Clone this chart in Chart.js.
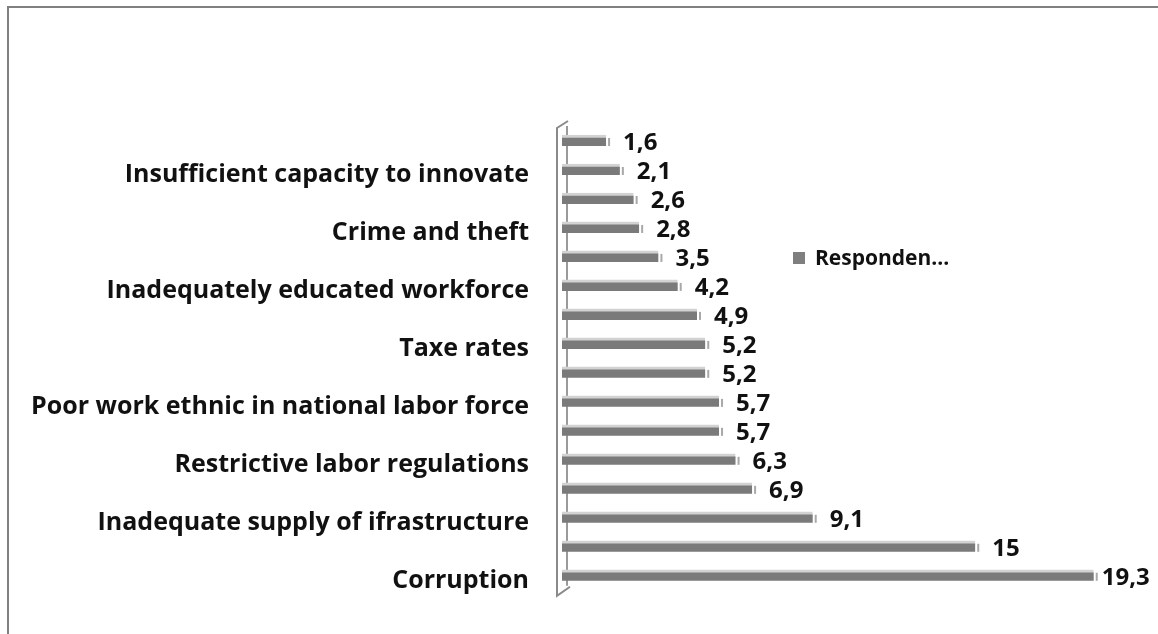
<!DOCTYPE html>
<html>
<head>
<meta charset="utf-8">
<script src="https://cdn.jsdelivr.net/npm/chart.js@4.4.0/dist/chart.umd.min.js"></script>
<style>
  html, body { margin: 0; padding: 0; background: #fff; overflow: hidden; }
  #wrap { position: relative; width: 1158px; height: 634px; }
  #frame { position: absolute; left: 7px; top: 6px; width: 1300px; height: 800px;
           border-top: 2px solid #808080; border-left: 2px solid #808080; box-sizing: border-box; }
  canvas { position: absolute; left: 0; top: 0; }
</style>
</head>
<body>
<div id="wrap">
  <div id="frame"></div>
  <canvas id="c" width="1158" height="634"></canvas>
</div>
<script>
const categories = [
  "", "Insufficient capacity to innovate",
  "", "Crime and theft",
  "", "Inadequately educated workforce",
  "", "Taxe rates",
  "", "Poor work ethnic in national labor force",
  "", "Restrictive labor regulations",
  "", "Inadequate supply of ifrastructure",
  "", "Corruption"
];
const values = [1.6, 2.1, 2.6, 2.8, 3.5, 4.2, 4.9, 5.2, 5.2, 5.7, 5.7, 6.3, 6.9, 9.1, 15, 19.3];
const valueLabels = ["1,6","2,1","2,6","2,8","3,5","4,2","4,9","5,2","5,2","5,7","5,7","6,3","6,9","9,1","15","19,3"];
const seriesName = "Responden...";

const FONT = '"Open Sans", "Liberation Sans", sans-serif';

const wallPlugin = {
  id: 'wall',
  beforeDatasetsDraw(chart) {
    const { ctx, chartArea: a } = chart;
    ctx.save();
    ctx.strokeStyle = '#9a9a9a';
    ctx.lineWidth = 2;
    ctx.beginPath();
    ctx.moveTo(a.left + 5, a.top);
    ctx.lineTo(a.left + 5, a.bottom - 4);
    ctx.stroke();
    ctx.strokeStyle = '#8a8a8a';
    ctx.lineWidth = 2;
    ctx.beginPath();
    ctx.moveTo(a.left + 6, a.top - 5);
    ctx.lineTo(a.left - 5, a.top + 2);
    ctx.lineTo(a.left - 5, a.bottom + 6);
    ctx.lineTo(a.left + 8, a.bottom - 3);
    ctx.stroke();
    ctx.restore();
  },
  afterDatasetsDraw(chart) {
    const { ctx } = chart;
    const meta = chart.getDatasetMeta(0);
    ctx.save();
    ctx.font = 'bold 24px ' + FONT;
    ctx.textBaseline = 'middle';
    ctx.textAlign = 'left';
    meta.data.forEach((bar, i) => {
      const h = bar.height;
      const top = bar.y - h / 2;
      ctx.fillStyle = '#a8a8a8';
      ctx.fillRect(bar.x + 2, top + 3, 2, h - 3);
      ctx.fillStyle = '#111';
      const txt = valueLabels[i];
      const w = ctx.measureText(txt).width;
      let x = bar.x + 17;
      if (x + w > chart.width - 4) x = bar.x + 8;
      ctx.fillText(txt, x, bar.y + 3);
    });
    const a = chart.chartArea;
    const lx = a.left + 231, ly = a.top + 132;
    ctx.font = 'bold 21px ' + FONT;
    ctx.fillStyle = '#7f7f7f';
    ctx.fillRect(lx, ly - 6, 12, 12);
    ctx.fillStyle = '#111';
    ctx.fillText(seriesName, lx + 22, ly + 1);
    ctx.restore();
  }
};

new Chart(document.getElementById('c'), {
  type: 'bar',
  data: {
    labels: categories,
    datasets: [{
      label: seriesName,
      data: values,
      backgroundColor: '#7a7a7a',
      borderColor: '#d2d2d2',
      borderWidth: { top: 3, left: 0, right: 0, bottom: 0 },
      borderSkipped: false,
      barThickness: 11
    }]
  },
  options: {
    indexAxis: 'y',
    responsive: false,
    animation: false,
    devicePixelRatio: 1,
    layout: { padding: { top: 126, bottom: 38, right: 45, left: 0 } },
    plugins: { legend: { display: false }, tooltip: { enabled: false } },
    scales: {
      x: { display: false, min: 0, max: 20 },
      y: {
        grid: { display: false, drawTicks: false },
        border: { display: false },
        afterFit(scale) { scale.width = 562; },
        ticks: {
          autoSkip: false,
          padding: 33,
          color: '#111',
          callback(v, i) { return ['', categories[i]]; },
          font: { family: FONT, size: 25, weight: 'bold', lineHeight: 0.45 }
        }
      }
    }
  },
  plugins: [wallPlugin]
});
</script>
</body>
</html>
